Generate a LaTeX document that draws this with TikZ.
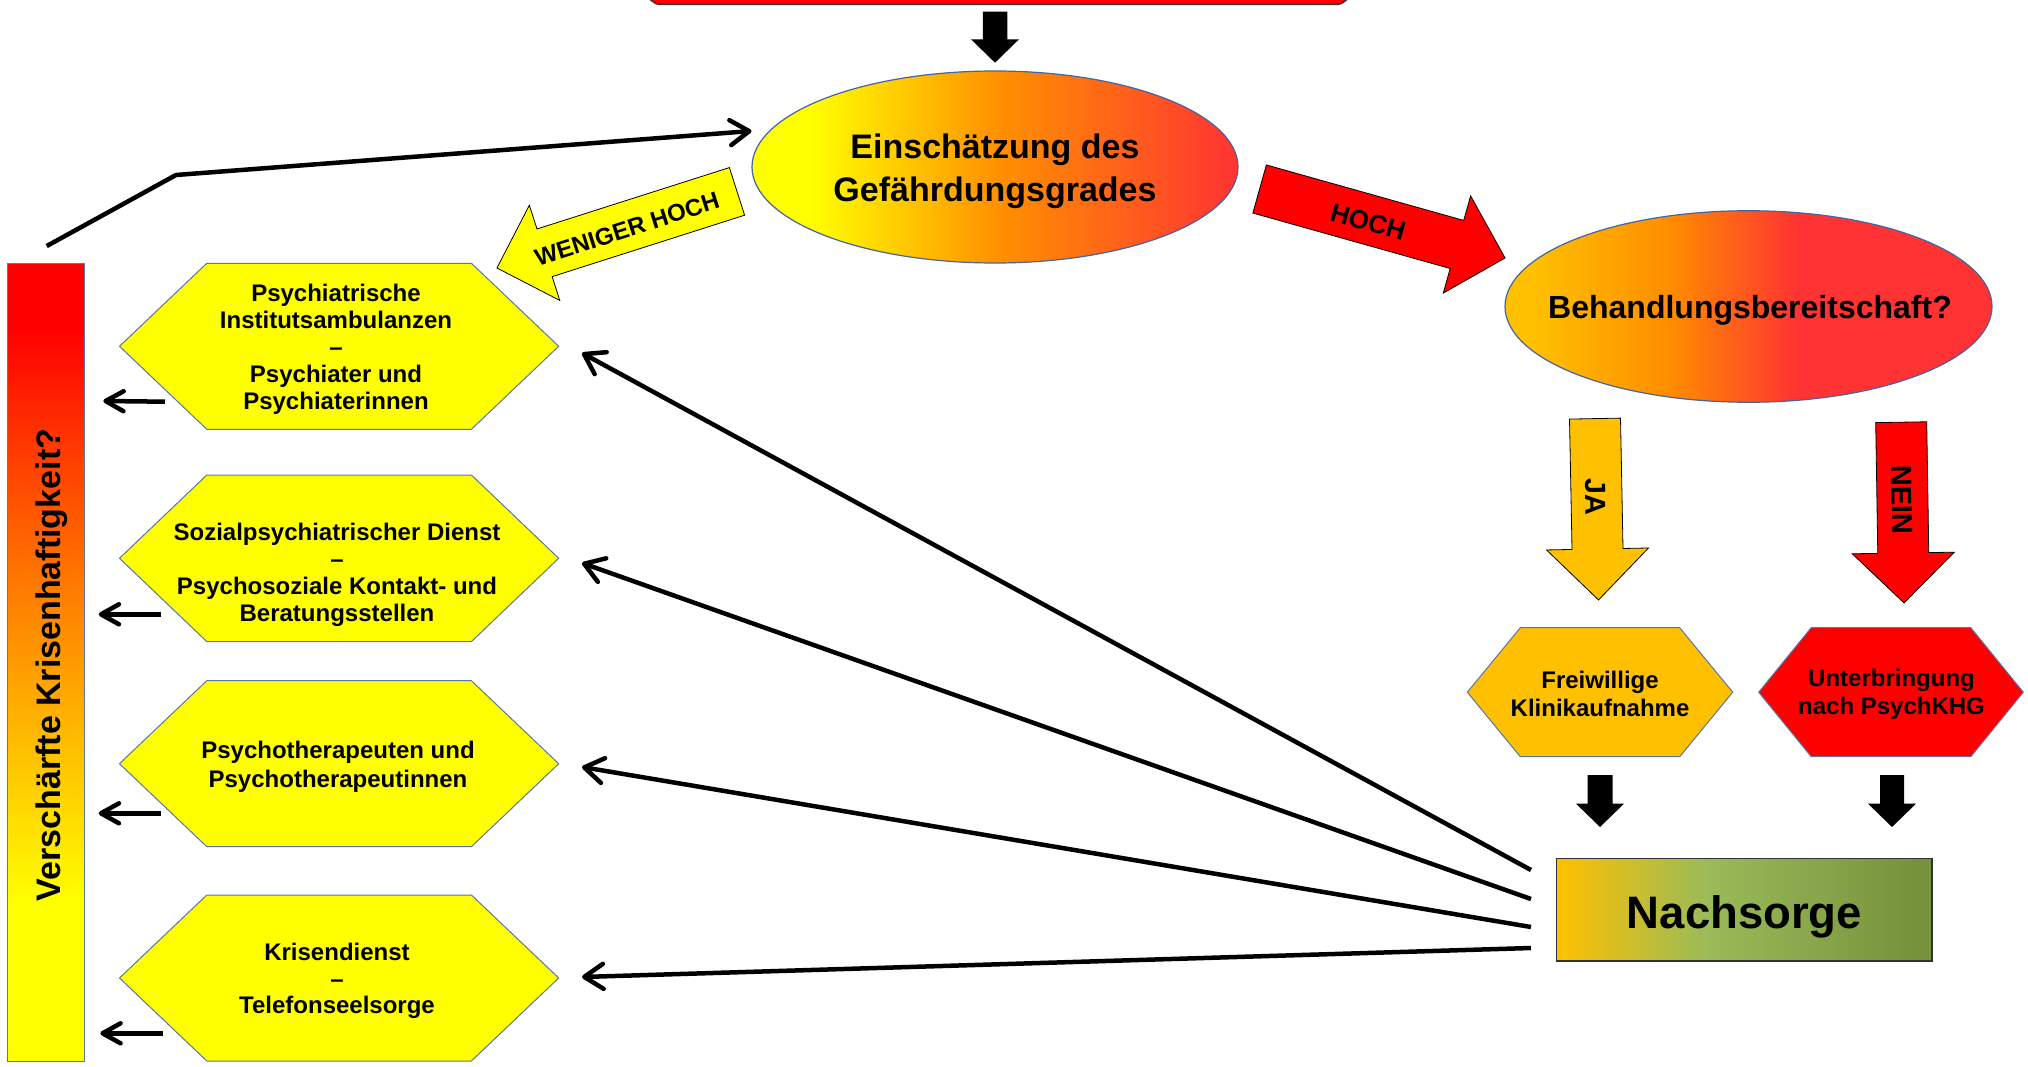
\documentclass[tikz,border=0pt]{standalone}
\usepackage{fontspec}
\setmainfont{Liberation Sans}
\usetikzlibrary{shapes.geometric,arrows.meta,calc}
\definecolor{hexline}{RGB}{88,118,168}
\definecolor{ellline}{RGB}{70,100,160}
\definecolor{cYel}{RGB}{255,255,0}
\definecolor{cGold}{RGB}{255,192,0}
\definecolor{cOrg}{RGB}{255,146,0}
\definecolor{cOrgB}{RGB}{255,140,0}
\definecolor{cRedE}{RGB}{255,51,51}
\definecolor{cRed}{RGB}{255,0,0}
\definecolor{cBarOrg}{RGB}{255,128,0}
\definecolor{cGreen}{RGB}{155,187,89}
\definecolor{cOlive}{RGB}{118,146,60}
\pgfdeclarehorizontalshading{ellA}{100bp}{color(0bp)=(cYel); color(31bp)=(cYel); color(50bp)=(cOrg); color(75bp)=(cRedE); color(100bp)=(cRedE)}
\pgfdeclarehorizontalshading{ellB}{100bp}{color(0bp)=(cGold); color(28bp)=(cGold); color(42bp)=(cOrgB); color(55bp)=(cRedE); color(100bp)=(cRedE)}
\pgfdeclarehorizontalshading{nachsh}{100bp}{color(0bp)=(cGold); color(25bp)=(cGold); color(45bp)=(cGreen); color(73bp)=(cOlive); color(100bp)=(cOlive)}
\pgfdeclareverticalshading{barsh}{100bp}{color(0bp)=(cYel); color(35bp)=(cYel); color(54bp)=(cBarOrg); color(71bp)=(cRed); color(100bp)=(cRed)}
\newcommand{\myfs}[2]{\fontsize{#1}{#2}\selectfont}
% block arrow: style, tail x, tail y, angle, length, shaft width, head width, head length
\newcommand{\blockarrow}[8]{%
  \begin{scope}[shift={(#2,#3)}, rotate=#4]
    \path[#1] (0,-#6/2) -- (#5-#8,-#6/2) -- (#5-#8,-#7/2) -- (#5,0) -- (#5-#8,#7/2) -- (#5-#8,#6/2) -- (0,#6/2) -- cycle;
  \end{scope}}
% hexagon: name, cx, cy, half width, half height, inset, style
\newcommand{\hexnode}[7]{%
  \path[#7] (#2-#4,#3) -- (#2-#4+#6,#3-#5) -- (#2+#4-#6,#3-#5) -- (#2+#4,#3) -- (#2+#4-#6,#3+#5) -- (#2-#4+#6,#3+#5) -- cycle;
  \node[minimum width=2*#4, minimum height=2*#5, inner sep=0pt, outer sep=0pt] (#1) at (#2,#3) {};}
\tikzset{
  lbl/.style={font=\bfseries, align=center, inner sep=0pt},
  hexl/.style={fill=cYel, draw=hexline, line width=1pt},
  hexr/.style={draw=hexline, line width=1pt},
  ell/.style={ellipse, draw=ellline, line width=1.2pt, inner sep=0pt, outer sep=0pt, shade},
  topbox/.style={draw=black!80, line width=1.5pt, fill=cRed, rounded corners=14pt, inner sep=0pt, outer sep=0pt},
  nachbox/.style={draw=black!80, line width=1.2pt, shade, shading=nachsh, inner sep=0pt, outer sep=0pt},
  barbox/.style={draw=hexline, line width=1pt, shade, shading=barsh, inner sep=0pt, outer sep=0pt},
  barr/.style={draw=black, line width=0.8pt},
  conn/.style={line width=4.5pt, line join=round, -{Straight Barb[length=19pt,width=25pt,round]}},
  smallarr/.style={line width=4.5pt, -{Straight Barb[length=18pt,width=20pt,round]}}
}
\begin{document}
\begin{tikzpicture}[x=1pt,y=-1pt]
\useasboundingbox (0,0) rectangle (2028,1067);
\fill[white] (0,0) rectangle (2028,1067);
% top box (cut off)
\node[topbox, minimum width=703, minimum height=50] (top) at (998.5,-20.5) {};
\blockarrow{fill=black}{995}{11.7}{-90}{51}{24.5}{48}{23.4}
% ellipses
\node[ell, shading=ellA, minimum width=486, minimum height=192] (e1) at (995,167) {};
\node[lbl, font=\bfseries\myfs{34}{43}] (e1t) at (995,171.5) {Einschätzung des\\Gefährdungsgrades};
\node[ell, shading=ellB, minimum width=487, minimum height=191.5] (e2) at (1748.5,306.5) {};
\node[lbl, font=\bfseries\myfs{32}{38}] (e2t) at (1750,310) {Behandlungsbereitschaft?};
% HOCH arrow
\blockarrow{fill=cRed, barr}{1259.6}{189}{-15.7}{255}{50}{101}{50}
\node[lbl, font=\bfseries\myfs{26}{30}, rotate=-15.7] (hoch) at (1368,222) {HOCH};
% WENIGER HOCH arrow
\blockarrow{fill=cYel, barr}{737}{191.4}{197.7}{252}{50}{100}{50}
\node[lbl, font=\bfseries\myfs{24}{28}, rotate=17.7] (wen) at (627,229) {WENIGER HOCH};
% JA / NEIN arrows
\blockarrow{fill=cGold, barr}{1595}{418.6}{-88.9}{181.4}{51}{102}{51}
\node[lbl, font=\bfseries\myfs{29}{33}, rotate=-88.9] (ja) at (1595.6,496.7) {JA};
\blockarrow{fill=cRed, barr}{1901.2}{422.2}{-89.1}{180.8}{51}{102}{50}
\node[lbl, font=\bfseries\myfs{29}{33}, rotate=-89.1] (nein) at (1902,500) {NEIN};
% right hexagons
\hexnode{fk}{1600}{692.2}{132.7}{64.5}{53}{hexr, fill=cGold}
\node[lbl, font=\bfseries\myfs{24}{28.4}] (fkt) at (1600,694) {Freiwillige\\Klinikaufnahme};
\hexnode{ub}{1891}{692.2}{132.3}{64.5}{52.5}{hexr, fill=cRed}
\node[lbl, font=\bfseries\myfs{24}{28.4}] (ubt) at (1891.5,694) {Unterbringung\\nach PsychKHG};
% black arrows to Nachsorge
\blockarrow{fill=black}{1600}{775}{-90}{52}{25}{48}{23.3}
\blockarrow{fill=black}{1892}{775}{-90}{52}{24}{48}{23.3}
% Nachsorge
\node[nachbox, minimum width=375.5, minimum height=102.7] (nach) at (1744.2,909.6) {};
\node[lbl, font=\bfseries\myfs{45.5}{50}] (nacht) at (1744.5,916.5) {Nachsorge};
% left bar
\node[barbox, minimum width=76.5, minimum height=797.7] (bar) at (46,662.2) {};
\node[lbl, font=\bfseries\myfs{34}{40}, rotate=90, anchor=base] (bart) at (60.5,665) {Verschärfte Krisenhaftigkeit?};
% left hexagons
\hexnode{h1}{339.1}{346.3}{219.6}{83}{87.3}{hexl}
\node[lbl, font=\bfseries\myfs{24}{27}] (h1t) at (336,349) {Psychiatrische\\Institutsambulanzen\\–\\Psychiater und\\Psychiaterinnen};
\hexnode{h2}{339.1}{558.3}{219.6}{83.3}{87.3}{hexl}
\node[lbl, font=\bfseries\myfs{24}{26.8}] (h2t) at (337,575) {Sozialpsychiatrischer Dienst\\–\\Psychosoziale Kontakt- und\\Beratungsstellen};
\hexnode{h3}{339.1}{763.7}{219.6}{83}{87.3}{hexl}
\node[lbl, font=\bfseries\myfs{24}{29}] (h3t) at (338,767) {Psychotherapeuten und\\Psychotherapeutinnen};
\hexnode{h4}{339.1}{978}{219.6}{83}{87.3}{hexl}
\node[lbl, font=\bfseries\myfs{24}{26.5}] (h4t) at (337,981) {Krisendienst\\–\\Telefonseelsorge};
% small arrows toward the bar
\draw[smallarr] ($(h1.center)+(-174.1,55.4)$) -- ($(h1.center)+(-235.8,54.7)$);
\draw[smallarr] ($(h2.center)+(-178.4,56)$) -- ($(h2.center)+(-240.4,56)$);
\draw[smallarr] ($(h3.center)+(-178.4,49.6)$) -- ($(h3.center)+(-240.4,49.6)$);
\draw[smallarr] ($(h4.center)+(-176.5,55.3)$) -- ($(h4.center)+(-238.8,55.3)$);
% connectors from Nachsorge
\draw[conn] ($(nach.west)+(-25.5,-39.6)$) -- ($(h1.east)+(23.3,6.7)$);
\draw[conn] ($(nach.west)+(-25.5,-10.6)$) -- ($(h2.east)+(23.3,4.7)$);
\draw[conn] ($(nach.west)+(-25.5,17.4)$) -- ($(h3.east)+(23.3,3.3)$);
\draw[conn] ($(nach.west)+(-25.5,38.4)$) -- ($(h4.east)+(23.3,-1)$);
% connector from bar back to assessment
\coordinate (bend) at (176,175);
\draw[conn] ($(bar.north)+(0.7,-17.3)$) -- (bend) -- ($(e1.west)+(-0.5,-36)$);
\end{tikzpicture}
\end{document}
